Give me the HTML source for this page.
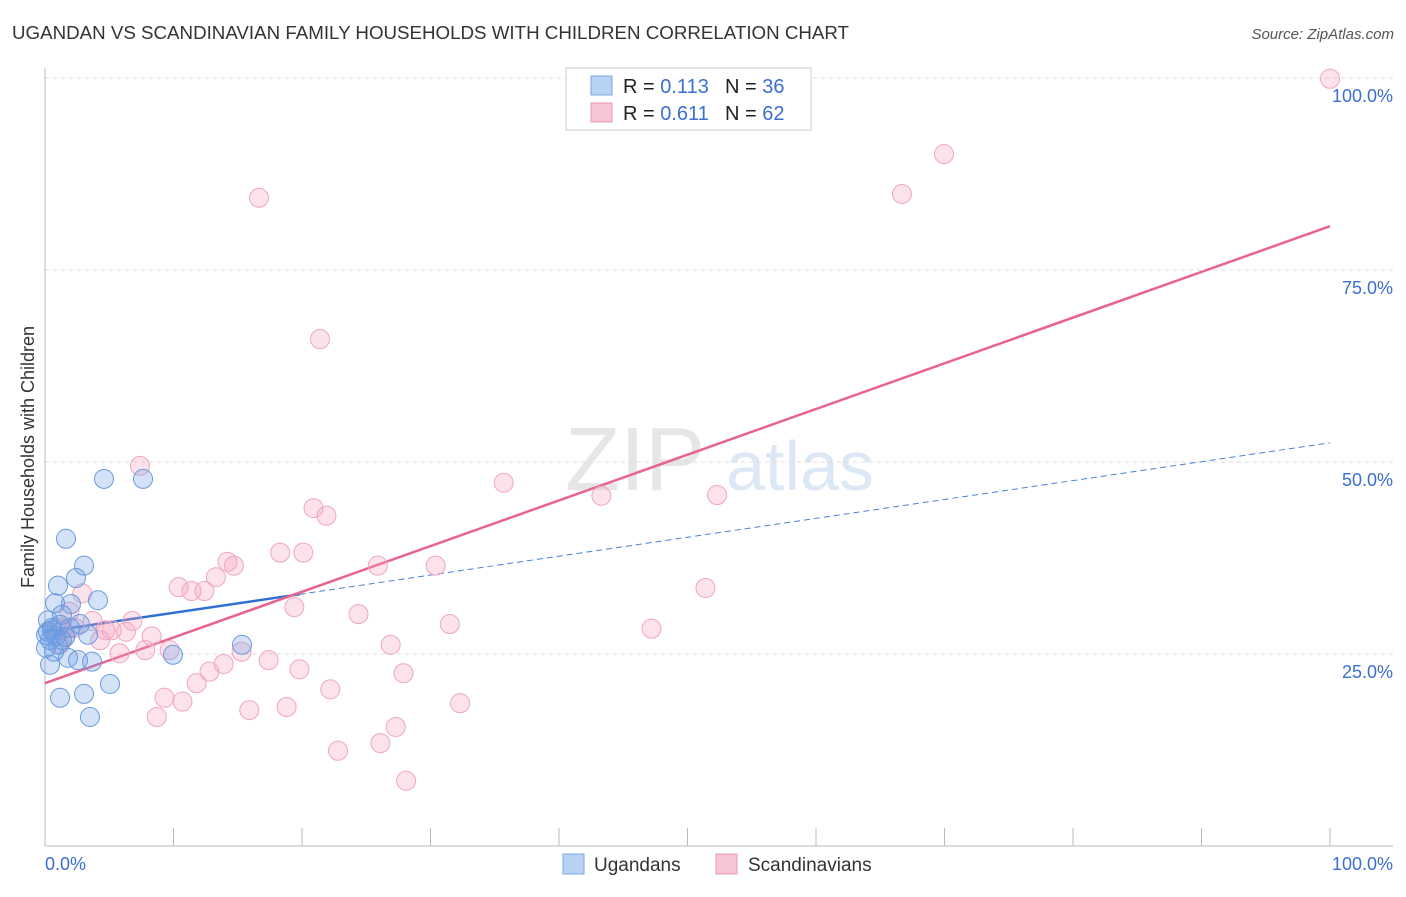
<!DOCTYPE html>
<html><head><meta charset="utf-8"><style>
body{margin:0;background:#fff;font-family:"Liberation Sans",sans-serif;}
svg text{font-family:"Liberation Sans",sans-serif;}
</style></head><body>
<svg id="chart" width="1406" height="892" xmlns="http://www.w3.org/2000/svg">
<text x="12" y="39" font-size="18" fill="#333" textLength="837" lengthAdjust="spacingAndGlyphs">UGANDAN VS SCANDINAVIAN FAMILY HOUSEHOLDS WITH CHILDREN CORRELATION CHART</text>
<text x="1394" y="39" font-size="15" fill="#555" text-anchor="end" font-style="italic">Source: ZipAtlas.com</text>
<text x="34" y="457" font-size="18" fill="#333" text-anchor="middle" transform="rotate(-90 34 457)">Family Households with Children</text>
<g><text x="635" y="490" font-size="90" fill="#e6e6e6" text-anchor="middle" font-family="Liberation Serif,serif">ZIP</text><text x="800" y="490" font-size="70" fill="#dde8f6" text-anchor="middle">atlas</text></g>
<g id="grid"></g><g id="axes"></g><g id="trends"></g><g id="points"></g>
<g>
<rect x="566" y="68" width="245" height="62" fill="#fff" stroke="#ccc"/>
<rect x="591" y="76" width="21" height="19" fill="#b8d2f4" stroke="#7aa6e0"/>
<text x="623" y="93" font-size="20" fill="#222">R = <tspan fill="#3b6fd1">0.113</tspan></text>
<text x="725" y="93" font-size="20" fill="#222">N = <tspan fill="#3b6fd1">36</tspan></text>
<rect x="591" y="103" width="21" height="19" fill="#f7c4d4" stroke="#ea98b3"/>
<text x="623" y="120" font-size="20" fill="#222">R = <tspan fill="#3b6fd1">0.611</tspan></text>
<text x="725" y="120" font-size="20" fill="#222">N = <tspan fill="#3b6fd1">62</tspan></text>
</g>
<g>
<rect x="563" y="854" width="21" height="20" fill="#b8d2f4" stroke="#7aa6e0"/>
<text x="594" y="871" font-size="19" fill="#333">Ugandans</text>
<rect x="716" y="854" width="21" height="20" fill="#f7c4d4" stroke="#ea98b3"/>
<text x="748" y="871" font-size="19" fill="#333">Scandinavians</text>
</g>
</svg>
<script>
const yTicks=[25,50,75,100];
const yTickLabels=["25.0%","50.0%","75.0%","100.0%"];
const xTickCount=10;
const blueX=[1.63,3.04,1.01,2.41,0.78,2.02,4.12,1.32,0.23,0.54,1.17,2.72,3.35,0.39,1.01,1.56,0.08,0.70,1.79,2.57,3.66,5.06,1.17,3.04,3.50,4.59,7.63,9.96,15.33,0.39,0.23,0.86,1.32,0.54,1.95,0.08];
const blueY=[40.0,36.5,33.9,34.9,31.6,31.5,32.0,30.1,29.4,28.1,28.8,28.9,27.5,26.8,26.2,27.2,25.8,25.3,24.5,24.2,24.0,21.1,19.3,19.8,16.8,47.8,47.8,24.9,26.2,23.6,27.9,27.3,26.8,28.4,28.4,27.5];
const pinkX=[100,69.96,66.69,16.65,21.4,7.39,35.7,43.3,52.3,20.9,21.9,18.3,20.1,14.2,14.7,25.9,30.4,13.3,10.4,11.4,12.4,2.9,19.4,24.4,51.4,31.5,47.2,6.8,3.7,5.2,6.3,4.7,8.3,4.3,26.9,5.8,7.8,9.7,15.3,17.4,19.8,13.9,12.8,11.8,22.2,27.9,9.3,10.7,32.3,15.9,18.8,8.7,27.3,22.8,26.1,28.1,1.9,1.3,0.9,1.6,2.3,1.2];
const pinkY=[99.9,90.1,84.9,84.4,66.0,49.5,47.3,45.6,45.7,44.0,43.0,38.2,38.2,37.0,36.5,36.5,36.5,35.0,33.7,33.2,33.2,32.9,31.1,30.2,33.6,28.9,28.3,29.3,29.3,28.1,27.9,28.1,27.3,26.8,26.2,25.1,25.5,25.5,25.3,24.2,23.0,23.7,22.7,21.2,20.4,22.5,19.3,18.8,18.6,17.7,18.1,16.8,15.5,12.4,13.4,8.5,30.5,28.1,28.4,27.3,28.4,26.3];
const blueTrend=[27.9,52.5];
const blueSolidEnd=19.8;
const pinkTrend=[21.2,80.7];

const NS="http://www.w3.org/2000/svg";
const sx=v=>45+v*12.85, sy=v=>846-v*7.68;
function mk(tag,parent,attrs){const e=document.createElementNS(NS,tag);for(const k in attrs)e.setAttribute(k,attrs[k]);document.getElementById(parent).appendChild(e);return e;}
yTicks.forEach((t,i)=>{
 const l=mk('line','grid',{x1:45,x2:1393,y1:sy(t),y2:sy(t),stroke:'#ddd','stroke-dasharray':'4,4'});
 
 
 const tx=mk('text','grid',{x:1393,y:sy(t)+24,'font-size':18,fill:'#3b6fd1','text-anchor':'end'});tx.textContent=yTickLabels[i];
 
 
});
const ax=mk('line','axes',{x1:45,x2:45,y1:68,y2:846,stroke:'#bbb'});


const bx=mk('line','axes',{x1:45,x2:1393,y1:846,y2:846,stroke:'#bbb'});


for(let i=0;i<=xTickCount;i++){const x=sx(i*100/xTickCount);const t=mk('line','axes',{x1:x,x2:x,y1:828,y2:846,stroke:'#bbb'});
 
 }
const x0=mk('text','axes',{x:45,y:870,'font-size':18,fill:'#3b6fd1'});x0.textContent='0.0%';


const x1=mk('text','axes',{x:1393,y:870,'font-size':18,fill:'#3b6fd1','text-anchor':'end'});x1.textContent='100.0%';


function pts(X,Y,fill,stroke,name){X.forEach((x,i)=>{const c=mk('circle','points',{cx:sx(x),cy:sy(Y[i]),r:9.5,fill:fill,stroke:stroke,'stroke-width':1});
 
 });}
pts(pinkX,pinkY,'rgba(245,160,190,0.3)','#efa6bf','scandinavian-point');
pts(blueX,blueY,'rgba(110,160,230,0.3)','#6b9ade','ugandan-point');
const bl=(x)=>blueTrend[0]+(blueTrend[1]-blueTrend[0])*x/100;
const b1=mk('line','trends',{x1:sx(0),y1:sy(bl(0)),x2:sx(blueSolidEnd),y2:sy(bl(blueSolidEnd)),stroke:'#2f6fd6','stroke-width':2.5});


const b2=mk('line','trends',{x1:sx(blueSolidEnd),y1:sy(bl(blueSolidEnd)),x2:sx(100),y2:sy(bl(100)),stroke:'#4a80d8','stroke-width':1,'stroke-dasharray':'6,4'});


const p1=mk('line','trends',{x1:sx(0),y1:sy(pinkTrend[0]),x2:sx(100),y2:sy(pinkTrend[1]),stroke:'#e8638f','stroke-width':2.5});


</script>
</body></html>
